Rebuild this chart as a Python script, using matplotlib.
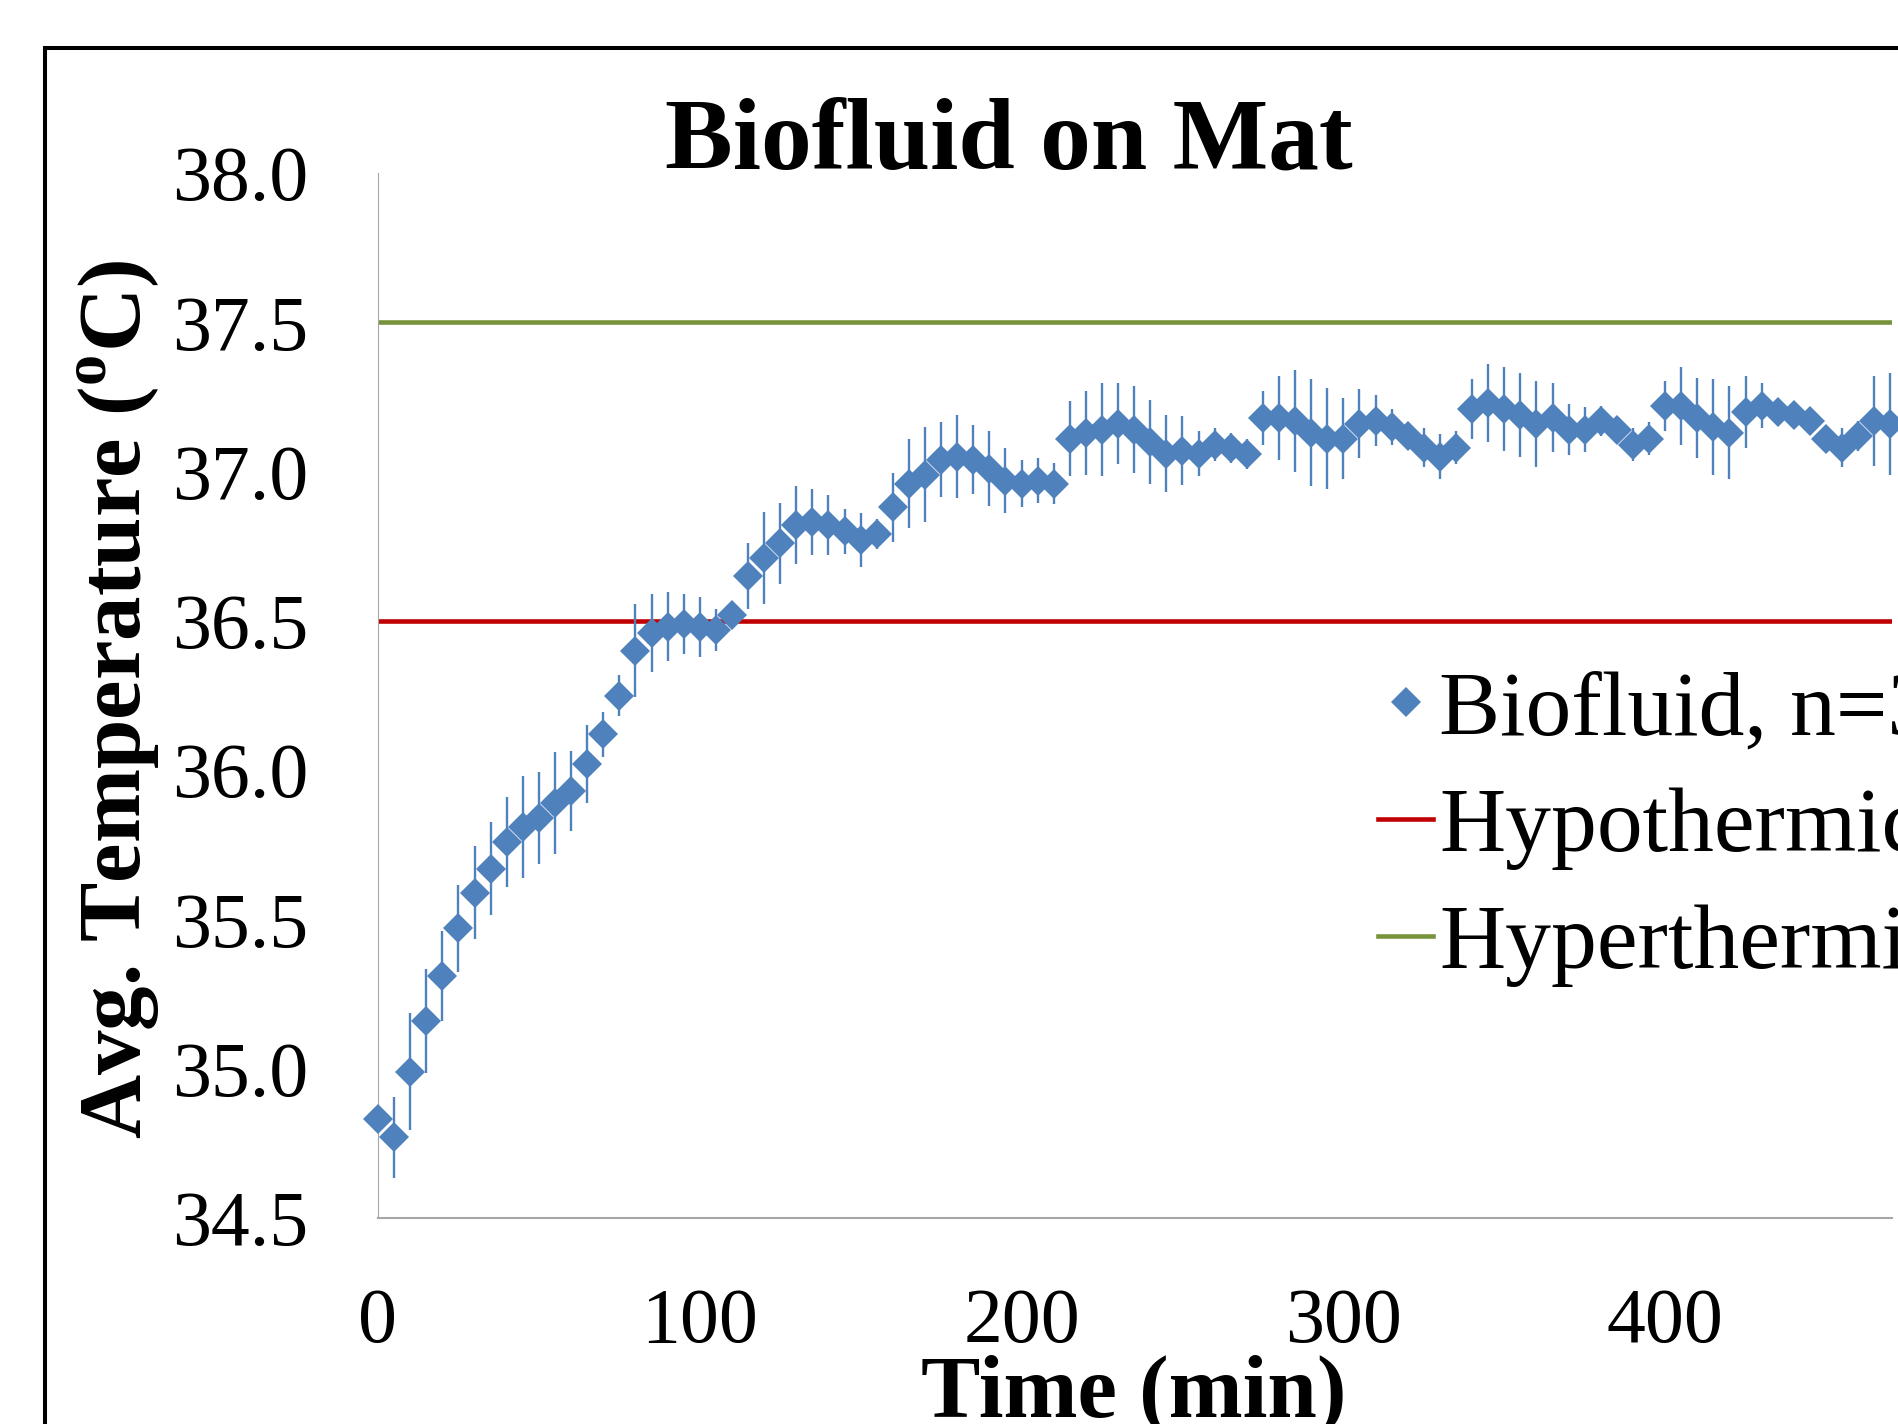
import matplotlib
matplotlib.use('Agg')
import matplotlib.pyplot as plt
from matplotlib.lines import Line2D
from matplotlib.patches import Rectangle

plt.rcParams['font.family'] = ['Liberation Serif', 'DejaVu Serif']
plt.rcParams['mathtext.fontset'] = 'custom'
plt.rcParams['mathtext.rm'] = 'Liberation Serif'
plt.rcParams['mathtext.bf'] = 'Liberation Serif:bold'

# time (min)
time_min = [0, 5, 10, 15, 20, 25, 30, 35, 40, 45, 50, 55, 60, 65, 70, 75, 80, 85, 90, 95,
            100, 105, 110, 115, 120, 125, 130, 135, 140, 145, 150, 155, 160, 165, 170, 175,
            180, 185, 190, 195, 200, 205, 210, 215, 220, 225, 230, 235, 240, 245, 250, 255,
            260, 265, 270, 275, 280, 285, 290, 295, 300, 305, 310, 315, 320, 325, 330, 335,
            340, 345, 350, 355, 360, 365, 370, 375, 380, 385, 390, 395, 400, 405, 410, 415,
            420, 425, 430, 435, 440, 445, 450, 455, 460, 465, 470]
# average temperature (C)
avg_temp = [34.83, 34.77, 34.99, 35.16, 35.31, 35.47, 35.59, 35.67, 35.76, 35.81,
            35.84, 35.89, 35.93, 36.02, 36.12, 36.25, 36.40, 36.46, 36.48, 36.49,
            36.48, 36.47, 36.52, 36.65, 36.71, 36.76, 36.82, 36.83, 36.82, 36.80,
            36.77, 36.79, 36.88, 36.96, 36.99, 37.04, 37.05, 37.04, 37.01, 36.97,
            36.96, 36.97, 36.96, 37.11, 37.13, 37.14, 37.16, 37.14, 37.10, 37.06,
            37.07, 37.06, 37.09, 37.08, 37.06, 37.18, 37.18, 37.17, 37.13, 37.11,
            37.11, 37.16, 37.17, 37.15, 37.12, 37.08, 37.05, 37.08, 37.21, 37.23,
            37.21, 37.19, 37.16, 37.18, 37.14, 37.14, 37.17, 37.14, 37.09, 37.11,
            37.22, 37.22, 37.18, 37.15, 37.13, 37.20, 37.22, 37.20, 37.19, 37.17,
            37.11, 37.08, 37.12, 37.17, 37.16]
# error bar half-length
temp_err = [0.03, 0.135, 0.195, 0.175, 0.15, 0.145, 0.155, 0.155, 0.15, 0.17,
            0.155, 0.17, 0.135, 0.13, 0.075, 0.07, 0.155, 0.13, 0.115, 0.10,
            0.10, 0.07, 0.03, 0.11, 0.155, 0.135, 0.13, 0.11, 0.10, 0.075,
            0.09, 0.05, 0.115, 0.15, 0.16, 0.125, 0.14, 0.115, 0.125, 0.11,
            0.08, 0.075, 0.07, 0.125, 0.14, 0.155, 0.135, 0.145, 0.14, 0.13,
            0.115, 0.075, 0.055, 0.05, 0.05, 0.09, 0.14, 0.17, 0.18, 0.17,
            0.135, 0.115, 0.085, 0.06, 0.045, 0.065, 0.075, 0.055, 0.10, 0.13,
            0.14, 0.14, 0.145, 0.115, 0.085, 0.075, 0.05, 0.03, 0.055, 0.055,
            0.085, 0.13, 0.135, 0.16, 0.155, 0.12, 0.075, 0.03, 0.03, 0.03,
            0.03, 0.065, 0.05, 0.15, 0.17]

hypo_level = 36.5
hyper_level = 37.5
y_ticks = [34.5, 35.0, 35.5, 36.0, 36.5, 37.0, 37.5, 38.0]
x_ticks = [0, 100, 200, 300, 400]

W, H = 1899, 1424
fig = plt.figure(figsize=(W / 100, H / 100), dpi=100)
fig.patch.set_facecolor('white')

# chart area border (cut off on the right and bottom)
fig.patches.append(Rectangle((45.5 / W, -0.2), 1.5, 1 - 48.5 / H + 0.2, transform=fig.transFigure,
                             fill=False, edgecolor='black', linewidth=2.9))

ax = fig.add_axes([378 / W, 1 - 1218 / H, (1892 - 378) / W, (1218 - 173) / H])
ax.axhline(hypo_level, color='#C00000', linewidth=3.3, zorder=1)
ax.axhline(hyper_level, color='#77933C', linewidth=3.3, zorder=1)
eb = ax.errorbar(time_min, avg_temp, yerr=temp_err, fmt='D', color='#4F81BD', ms=15, mew=0,
                 ecolor='#4F81BD', elinewidth=1.7, capsize=5, capthick=1.7, zorder=3)
for art in eb.get_children():
    art.set_clip_on(False)

ax.set_xlim(0, 470.5)
ax.set_ylim(34.5, 38.0)
ax.set_yticks(y_ticks)
ax.set_yticklabels(['%.1f' % v for v in y_ticks])
ax.set_xticks(x_ticks)
ax.tick_params(axis='both', length=0, labelsize=56)
ax.tick_params(axis='x', pad=50)
ax.tick_params(axis='y', pad=50)
for s in ['top', 'right']:
    ax.spines[s].set_visible(False)
ax.spines['left'].set_color('#A6A6A6')
ax.spines['left'].set_linewidth(0.8)
ax.spines['bottom'].set_color('#A6A6A6')
ax.spines['bottom'].set_linewidth(1.5)

fig.text(1009 / W, 1 - 169.5 / H, 'Biofluid on Mat', ha='center', va='baseline',
         fontsize=73, fontweight='bold')
fig.text(119 / W, 1 - 699 / H, r'Avg. Temperature ($^{\mathbf{o}}$C)', ha='center', va='center',
         rotation=90, fontsize=64, fontweight='bold')
fig.text(1134 / W, 1 - 1416 / H, 'Time (min)', ha='center', va='baseline',
         fontsize=64, fontweight='bold')

handles = [Line2D([], [], ls='none', marker='D', ms=15, mew=0, color='#4F81BD'),
           Line2D([], [], color='#C00000', lw=3.3),
           Line2D([], [], color='#77933C', lw=3.3)]
labels = ['Biofluid, n=3', 'Hypothermic', 'Hyperthermic']
fig.legend(handles, labels, loc='upper left', bbox_to_anchor=(1378 / W, 1 - 670 / H),
           frameon=False, fontsize=66, handlelength=0.6, handletextpad=0.07,
           labelspacing=0.37, borderpad=0, borderaxespad=0)

fig.savefig('out.png', dpi=100)
